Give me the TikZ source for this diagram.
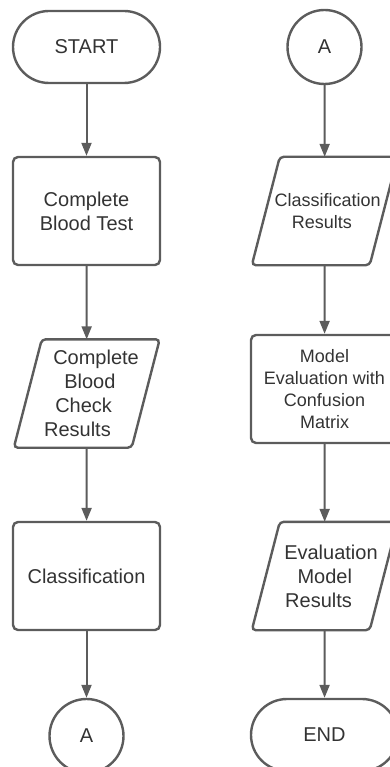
\documentclass[tikz,border=0pt]{standalone}
\usepackage{fontspec}
\setmainfont{Liberation Sans}
\usetikzlibrary{arrows.meta}
\definecolor{lc}{RGB}{92,92,92}
\definecolor{tc}{RGB}{51,51,51}
\newcommand\myshiftline[2]{\hbox{\kern#1pt\relax #2\kern-#1pt\relax}}
\begin{document}
\begin{tikzpicture}[x=1pt,y=-1pt,
  shp/.style={draw=lc, line width=2.4pt},
  big/.style={font=\fontsize{20}{24}\selectfont, text=tc, align=center},
  small/.style={font=\fontsize{18}{22}\selectfont, text=tc, align=center},
  term/.style={shp, rounded corners=36pt, minimum width=147pt, minimum height=72pt, inner sep=0pt},
  procbox/.style={shp, rounded corners=5pt, minimum width=147pt, minimum height=108pt, inner sep=0pt},
  conn/.style={circle, shp, minimum size=74pt, inner sep=0pt},
  io/.style={minimum width=117.5pt, minimum height=108pt, inner sep=0pt},
  flow/.style={draw=lc, line width=2pt, -{Triangle[width=10pt,length=13pt]}}
]
\useasboundingbox (0,0) rectangle (390,767);
\clip (0,0) rectangle (390,767);
% left column
\node[term,big] (start) at (86.5,47) {START};
\node[procbox,big] (cbt) at (86.5,211) {Complete\\Blood Test};
\node[io,big] (cbr) at (86.75,393.5) {\myshiftline{9.3}{Complete}\\\myshiftline{3.1}{Blood}\\\myshiftline{-3.1}{Check}\\\myshiftline{-9.3}{Results}};
\node[procbox,big] (cls) at (86.5,576) {Classification};
\node[conn,big] (a1) at (86.5,736) {A};
% right column
\node[conn,big] (a2) at (324.5,47) {A};
\node[io,small] (clr) at (324.75,211) {\myshiftline{2.9}{Classification}\\\myshiftline{-2.9}{Results}};
\node[procbox,small] (me) at (324.5,389) {Model\\Evaluation with\\Confusion\\Matrix};
\node[io,big] (emr) at (324.75,576) {\myshiftline{6.2}{Evaluation}\\Model\\\myshiftline{-6.2}{Results}};
\node[term,big] (end) at (324.5,735) {END};
% parallelogram outlines
\foreach \n in {cbr,clr,emr}
  \draw[shp, rounded corners=4pt] ([xshift=14pt]\n.north west) -- ([xshift=14pt]\n.north east) -- ([xshift=-14pt]\n.south east) -- ([xshift=-14pt]\n.south west) -- cycle;
% connectors
\draw[flow] (start) -- (cbt);
\draw[flow] (cbt) -- (cbr);
\draw[flow] (cbr) -- (cls);
\draw[flow] (cls) -- (a1);
\draw[flow] (a2) -- (clr);
\draw[flow] (clr) -- (me);
\draw[flow] (me) -- (emr);
\draw[flow] (emr) -- (end);
\end{tikzpicture}
\end{document}
